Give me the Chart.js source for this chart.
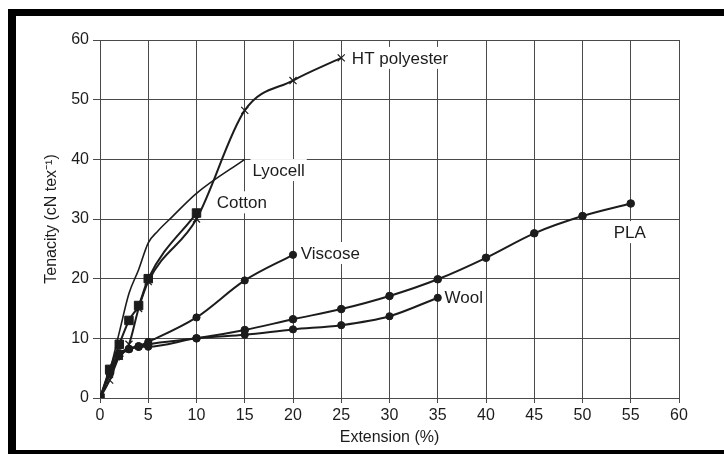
<!DOCTYPE html>
<html>
<head>
<meta charset="utf-8">
<script src="https://cdn.jsdelivr.net/npm/chart.js@4"></script>
<style>
  html, body { margin: 0; padding: 0; background: #fff; }
  #wrap { position: relative; width: 724px; height: 454px; overflow: hidden; }
  #frame {
    position: absolute; left: 8px; top: 9px; width: 760px; height: 434px;
    border-left: 8px solid #000; border-top: 7px solid #000; border-bottom: 4px solid #000;
  }
  canvas { position: absolute; left: 0; top: 0; }
</style>
</head>
<body>
<div id="wrap">
  <div id="frame"></div>
  <canvas id="chart" width="724" height="454"></canvas>
</div>
<script>
// ---- data (extension %, tenacity cN/tex) ----
const htX = [0, 1, 2, 3, 4, 5, 10, 15, 20, 25];
const htY = [0, 3, 7, 9, 15, 19.5, 30, 48.2, 53.2, 57];

const lyocellX = [0, 1, 2, 3, 4, 5, 6, 7.5, 10, 15];
const lyocellY = [0, 4.5, 11, 17.5, 21.5, 26, 28, 30.4, 34.3, 40];

const cottonX = [0, 1, 2, 3, 4, 5, 10];
const cottonY = [0, 4.8, 9, 13, 15.5, 20, 31];

const viscoseX = [0, 1, 2, 3, 4, 5, 10, 15, 20];
const viscoseY = [0, 4, 7, 8.2, 8.7, 9.4, 13.5, 19.7, 24];

const woolX = [0, 1, 2, 3, 4, 5, 10, 15, 20, 25, 30, 35];
const woolY = [0, 4, 7, 8.2, 8.6, 8.6, 10, 10.6, 11.5, 12.2, 13.7, 16.8];

const plaX = [0, 1, 2, 3, 4, 5, 10, 15, 20, 25, 30, 35, 40, 45, 50, 55];
const plaY = [0, 4.5, 7.5, 8.2, 8.6, 9, 10, 11.4, 13.2, 14.9, 17.1, 19.9, 23.5, 27.6, 30.5, 32.6];

// curve labels: text, anchor x, anchor y (data units)
const labelText = ['HT polyester', 'Lyocell', 'Cotton', 'Viscose', 'Wool', 'PLA'];
const labelX    = [26.1, 15.8, 12.1, 20.8, 35.7, 54.9];
const labelY    = [57.0, 38.2, 32.8, 24.3, 16.8, 27.8];
const labelAlign = ['left', 'left', 'left', 'left', 'left', 'center'];

const xTicksMax = 60;
const yTicksMax = 60;

const INK = '#1c1c1c';
const GRID = '#4a4a4a';
const FONT = "'Liberation Sans', Arial, sans-serif";

function pts(xs, ys) {
  return xs.map((x, i) => ({ x: x, y: ys[i] }));
}

function series(label, xs, ys, style, radius) {
  return {
    label: label,
    data: pts(xs, ys),
    borderColor: INK,
    backgroundColor: INK,
    borderWidth: 2,
    pointStyle: style,
    pointRadius: radius,
    pointBorderColor: INK,
    pointBackgroundColor: INK,
    pointBorderWidth: style === 'crossRot' ? 1.2 : 1,
    cubicInterpolationMode: 'monotone',
    fill: false
  };
}

// labels with a white box behind them, drawn over the grid but under the curves
const curveLabels = {
  id: 'curveLabels',
  beforeDatasetsDraw(chart) {
    const { ctx, scales } = chart;
    ctx.save();
    ctx.font = '17px ' + FONT;
    ctx.textBaseline = 'middle';
    labelText.forEach((t, i) => {
      const px = scales.x.getPixelForValue(labelX[i]);
      const py = scales.y.getPixelForValue(labelY[i]);
      const w = ctx.measureText(t).width;
      const left = labelAlign[i] === 'center' ? px - w / 2 : px;
      ctx.fillStyle = '#fff';
      ctx.fillRect(left - 2, py - 11, w + 4, 22);
      ctx.fillStyle = INK;
      ctx.textAlign = 'left';
      ctx.fillText(t, left, py + 1);
    });
    ctx.restore();
  }
};

new Chart(document.getElementById('chart'), {
  type: 'line',
  data: {
    datasets: [
      series('HT polyester', htX, htY, 'crossRot', 5),
      Object.assign(series('Lyocell', lyocellX, lyocellY, 'circle', 0), { borderWidth: 1.6 }),
      series('Cotton', cottonX, cottonY, 'rect', 6),
      series('Viscose', viscoseX, viscoseY, 'circle', 3.6),
      series('Wool', woolX, woolY, 'circle', 3.6),
      series('PLA', plaX, plaY, 'circle', 3.8)
    ]
  },
  options: {
    responsive: false,
    animation: false,
    layout: { padding: { left: 0, right: 45, top: 40, bottom: 0 } },
    plugins: { legend: { display: false }, tooltip: { enabled: false } },
    scales: {
      x: {
        type: 'linear',
        min: 0,
        max: xTicksMax,
        afterFit: s => { s.height = 56; },
        ticks: { stepSize: 5, color: INK, padding: 3, font: { family: FONT, size: 16 } },
        grid: { color: GRID, lineWidth: 1, tickLength: 5, tickColor: GRID },
        border: { color: GRID, width: 1 },
        title: {
          display: true,
          text: 'Extension (%)',
          color: INK,
          font: { family: FONT, size: 16 },
          padding: { top: 0, bottom: 7 }
        }
      },
      y: {
        type: 'linear',
        min: 0,
        max: yTicksMax,
        afterFit: s => { s.width = 100; },
        ticks: { stepSize: 10, color: INK, padding: 4, font: { family: FONT, size: 16 } },
        grid: { color: GRID, lineWidth: 1, tickLength: 7, tickColor: GRID },
        border: { color: GRID, width: 1 },
        title: {
          display: true,
          text: 'Tenacity (cN tex⁻¹)',
          color: INK,
          font: { family: FONT, size: 16 },
          padding: { top: 42, bottom: 0 }
        }
      }
    }
  },
  plugins: [curveLabels]
});
</script>
</body>
</html>
